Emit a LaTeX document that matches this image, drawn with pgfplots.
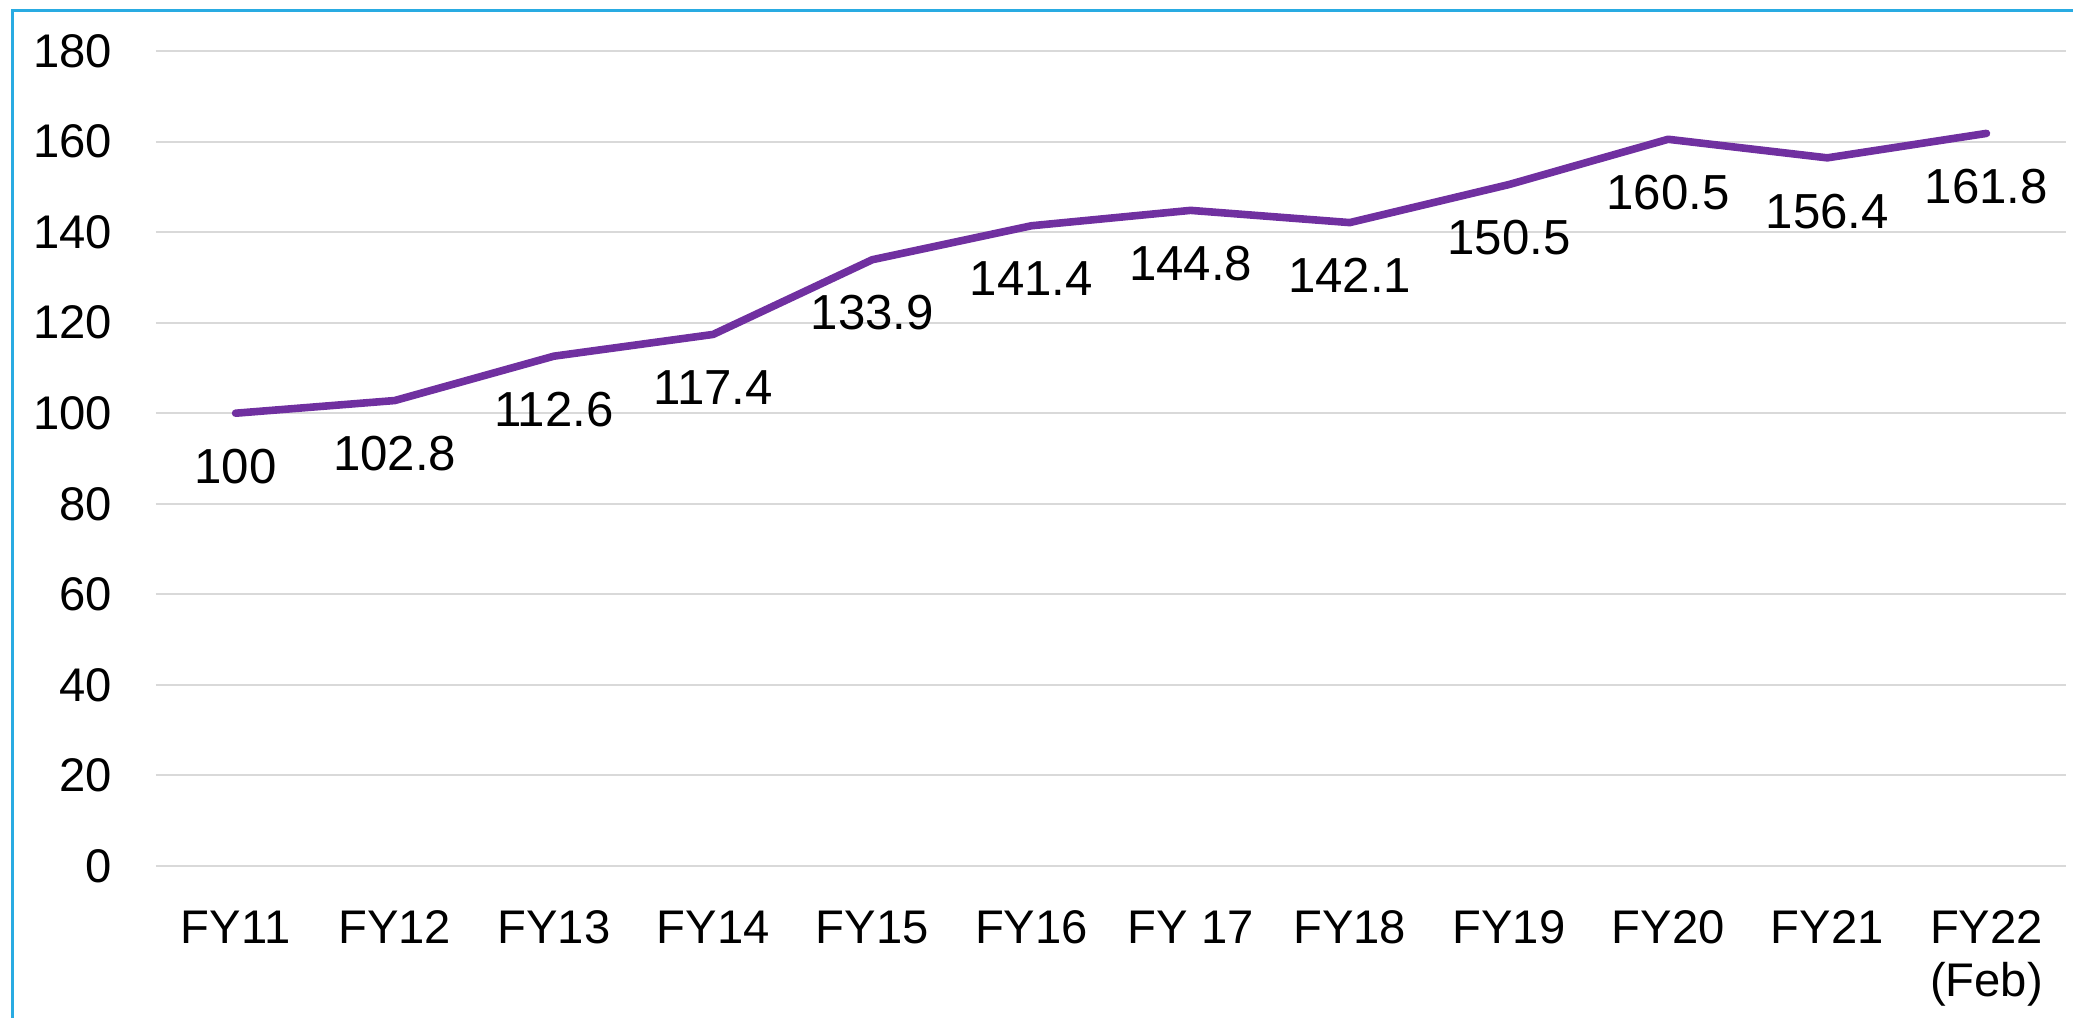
\documentclass[border=0pt]{standalone}
\usepackage{pgfplots}
\pgfplotsset{compat=1.18}
\usepackage{fontspec}
\setmainfont{Liberation Sans}
\definecolor{linepurple}{HTML}{7030A0}
\definecolor{gridgray}{HTML}{D9D9D9}
\definecolor{frameblue}{HTML}{29ABE2}
\begin{document}
\begin{tikzpicture}
  % picture extents: 1px of the reference = 0.25pt, axis box origin at (0,0)
  \path[use as bounding box] (-39pt,-37.75pt) rectangle (479.25pt,216.5pt);
  \draw[frameblue, line width=0.65pt] (-35.9pt,-40pt) -- (-35.9pt,213.9pt) -- (482pt,213.9pt);
  \begin{axis}[
      at={(0,0)}, anchor=south west,
      scale only axis,
      width=477.5pt, height=203.75pt,
      xmin=-0.5, xmax=11.5,
      ymin=0, ymax=180,
      ytick={0,20,...,180},
      xtick={0,...,11},
      xticklabels={FY11,FY12,FY13,FY14,FY15,FY16,FY 17,FY18,FY19,FY20,FY21,FY22\\(Feb)},
      axis line style={draw=none},
      tick style={draw=none},
      ymajorgrids,
      grid style={gridgray, line width=0.5pt},
      font=\fontsize{11.8}{13.25}\selectfont,
      /pgf/number format/assume math mode=true,
      yticklabel style={inner sep=0pt, anchor=east, xshift=-10.75pt},
      xticklabel style={inner sep=0pt, anchor=north, yshift=-11pt, align=center},
      clip=false,
      point meta=explicit symbolic,
      nodes near coords,
      every node near coord/.append style={anchor=north, inner sep=0pt, yshift=-8pt,
        text=black, font=\fontsize{12.3}{14}\selectfont},
    ]
    \addplot[linepurple, line width=1.9pt, line cap=round, line join=round, mark=none]
      coordinates {
        (0,100) [100]
        (1,102.8) [102.8]
        (2,112.6) [112.6]
        (3,117.4) [117.4]
        (4,133.9) [133.9]
        (5,141.4) [141.4]
        (6,144.8) [144.8]
        (7,142.1) [142.1]
        (8,150.5) [150.5]
        (9,160.5) [160.5]
        (10,156.4) [156.4]
        (11,161.8) [161.8]
      };
  \end{axis}
\end{tikzpicture}
\end{document}
